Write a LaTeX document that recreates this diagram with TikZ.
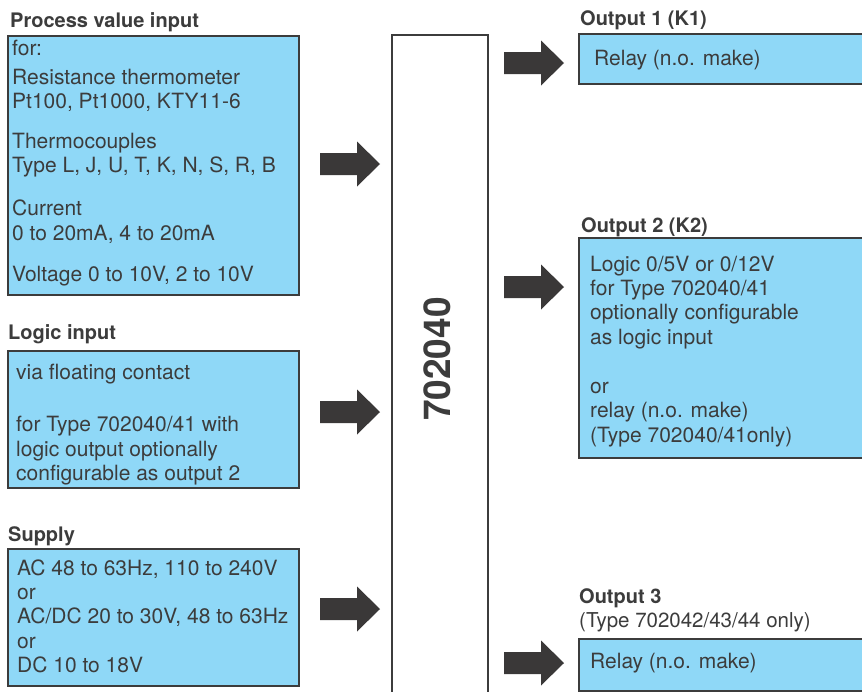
\documentclass[tikz,border=0pt]{standalone}
\usepackage{fontspec}
\setmainfont{TeX Gyre Heros}
\definecolor{boxfill}{HTML}{8FD8F7}
\definecolor{ink}{HTML}{3C3C3C}
\definecolor{arrowfill}{HTML}{3A3838}
\begin{document}
\begin{tikzpicture}[x=1pt,y=-1pt,
  infobox/.style={draw=ink, line width=2pt, fill=boxfill, rectangle, inner sep=0pt, anchor=north west},
  body/.style={text=ink, font=\fontsize{21}{24}\selectfont, inner sep=0pt, anchor=base west},
  heading/.style={text=ink, font=\fontsize{20}{22}\selectfont\bfseries, inner sep=0pt, anchor=base west},
  sub/.style={text=ink, font=\fontsize{20.5}{22}\selectfont, inner sep=0pt, anchor=base west},
  barrow/.pic={\fill[arrowfill] (0,-11) -- (37,-11) -- (37,-22.5) -- (60,0) -- (37,22.5) -- (37,11) -- (0,11) -- cycle;}
]
\clip (0,0) rectangle (862,691);
\fill[white] (0,0) rectangle (862,691);

% central unit
\node[draw=ink, line width=2pt, fill=white, rectangle, inner sep=0pt, anchor=north west,
      minimum width=96pt, minimum height=680pt] (unit) at (391,34) {};
\node[text=ink, font=\fontsize{37}{42}\selectfont\bfseries, rotate=90, inner sep=0pt] (unitlabel) at (437,359) {702040};

% left boxes
\node[infobox, minimum width=291pt, minimum height=259pt] (pv) at (7,35) {};
\node[infobox, minimum width=291pt, minimum height=137pt] (li) at (7,350) {};
\node[infobox, minimum width=291pt, minimum height=137pt] (su) at (7,548) {};

% right boxes
\node[infobox, minimum width=300pt, minimum height=50pt] (o1) at (578,33) {};
\node[infobox, minimum width=300pt, minimum height=220pt] (o2) at (578,237) {};
\node[infobox, minimum width=300pt, minimum height=52pt] (o3) at (578,638) {};

% headings
\node[heading] (hpv) at (10,27) {Process value input};
\node[heading] (hli) at (8,339) {Logic input};
\node[heading] (hsu) at (8,541) {Supply};
\node[heading] (ho1) at (580,25) {Output 1 (K1)};
\node[heading] (ho2) at (581,232) {Output 2 (K2)};
\node[heading] (ho3) at (579,603) {Output 3};
\node[sub] (ho3b) at (579,627) {(Type 702042/43/44 only)};

% process value text
\node[body] (pv1) at (12,55) {for:};
\node[body] (pv2) at (12,84) {Resistance thermometer};
\node[body] (pv3) at (12,108) {Pt100, Pt1000, KTY11-6};
\node[body] (pv4) at (12,148) {Thermocouples};
\node[body] (pv5) at (12,172) {Type L, J, U, T, K, N, S, R, B};
\node[body] (pv6) at (12,215) {Current};
\node[body] (pv7) at (12,240) {0 to 20mA, 4 to 20mA};
\node[body] (pv8) at (12,281) {Voltage 0 to 10V, 2 to 10V};

% logic input text
\node[body] (li1) at (16,379) {via floating contact};
\node[body] (li2) at (16,431) {for Type 702040/41 with};
\node[body] (li3) at (16,456) {logic output optionally};
\node[body] (li4) at (16,480) {configurable as output 2};

% supply text
\node[body] (su1) at (17,575) {AC 48 to 63Hz, 110 to 240V};
\node[body] (su2) at (17,599) {or};
\node[body] (su3) at (17,623) {AC/DC 20 to 30V, 48 to 63Hz};
\node[body] (su4) at (17,648) {or};
\node[body] (su5) at (17,672) {DC 10 to 18V};

% output texts
\node[body] (o1t) at (594,65) {Relay (n.o. make)};
\node[body] (o2a) at (590,271) {Logic 0/5V or 0/12V};
\node[body] (o2b) at (590,295) {for Type 702040/41};
\node[body] (o2c) at (590,319) {optionally configurable};
\node[body] (o2d) at (590,344) {as logic input};
\node[body] (o2e) at (590,393) {or};
\node[body] (o2f) at (590,417) {relay (n.o. make)};
\node[body] (o2g) at (590,442) {(Type 702040/41only)};
\node[body] (o3t) at (590,668) {Relay (n.o. make)};

% block arrows
\pic at (320,164) {barrow};
\pic at (320,412) {barrow};
\pic at (320,609) {barrow};
\pic at (504,63) {barrow};
\pic at (504,287) {barrow};
\pic at (504,663) {barrow};
\end{tikzpicture}
\end{document}
